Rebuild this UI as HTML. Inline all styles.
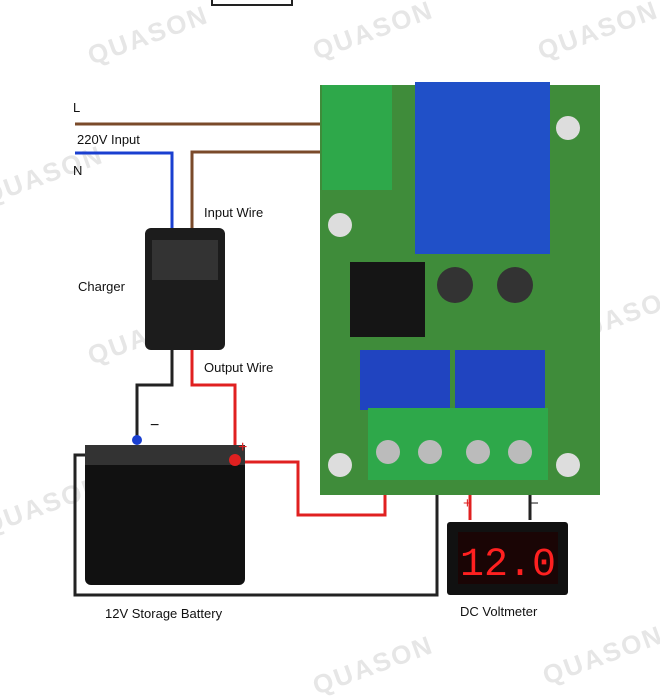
<!DOCTYPE html>
<html><head><meta charset="utf-8"><style>
body{margin:0;background:#fff;}
#c{position:relative;width:660px;height:699px;overflow:hidden;font-family:"Liberation Sans",sans-serif;}
.t{position:absolute;font-size:13px;color:#111;}
.wm{position:absolute;font-size:26px;font-weight:bold;color:#e6e6e6;transform:rotate(-20deg);letter-spacing:2px;}
</style></head><body><div id="c">
<div class="wm" style="left:85px;top:20px">QUASON</div>
<div class="wm" style="left:310px;top:15px">QUASON</div>
<div class="wm" style="left:535px;top:15px">QUASON</div>
<div class="wm" style="left:-20px;top:160px">QUASON</div>
<div class="wm" style="left:85px;top:320px">QUASON</div>
<div class="wm" style="left:560px;top:300px">QUASON</div>
<div class="wm" style="left:-20px;top:490px">QUASON</div>
<div class="wm" style="left:310px;top:650px">QUASON</div>
<div class="wm" style="left:540px;top:640px">QUASON</div>
<svg width="660" height="699" style="position:absolute;left:0;top:0">
<path d="M212 0V5H292V0" fill="none" stroke="#222" stroke-width="2"/>
<path d="M75 124H335" stroke="#7a4a2a" stroke-width="3" fill="none"/>
<path d="M75 153H172V232" stroke="#1a3fd0" stroke-width="3" fill="none"/>
<path d="M192 232V152H335" stroke="#7a4a2a" stroke-width="3" fill="none"/>
<path d="M172 350V385H137V440" stroke="#222" stroke-width="3" fill="none"/>
<path d="M192 350V385H235V458" stroke="#e02020" stroke-width="3" fill="none"/>
<path d="M240 462H298V515H385V480" stroke="#e02020" stroke-width="3" fill="none"/>
<path d="M85 455H75V595H437V480" stroke="#222" stroke-width="3" fill="none"/>
<path d="M470 490V520" stroke="#e02020" stroke-width="3"/>
<path d="M530 490V520" stroke="#222" stroke-width="3"/>
<!-- charger -->
<rect x="145" y="228" width="80" height="122" rx="6" fill="#1c1c1c"/>
<rect x="152" y="240" width="66" height="40" fill="#333"/>
<!-- battery -->
<rect x="85" y="445" width="160" height="140" rx="6" fill="#111"/>
<rect x="85" y="445" width="160" height="20" fill="#333"/>
<circle cx="137" cy="440" r="5" fill="#1a3fd0"/><circle cx="235" cy="460" r="6" fill="#e02020"/>
<text x="150" y="430" font-size="16" fill="#111">−</text>
<text x="238" y="452" font-size="16" fill="#e02020">+</text>
<!-- board -->
<rect x="320" y="85" width="280" height="410" fill="#3f8c3a"/>
<rect x="322" y="85" width="70" height="105" fill="#2ea84a"/>
<rect x="415" y="82" width="135" height="172" fill="#2050c8"/>
<rect x="350" y="262" width="75" height="75" fill="#151515"/>
<rect x="360" y="350" width="90" height="60" fill="#2044c0"/>
<rect x="455" y="350" width="90" height="60" fill="#2044c0"/>
<rect x="368" y="408" width="180" height="72" fill="#2ea84a"/>
<circle cx="388" cy="452" r="12" fill="#bbb"/><circle cx="430" cy="452" r="12" fill="#bbb"/>
<circle cx="478" cy="452" r="12" fill="#bbb"/><circle cx="520" cy="452" r="12" fill="#bbb"/>
<circle cx="455" cy="285" r="18" fill="#333"/><circle cx="515" cy="285" r="18" fill="#333"/>
<circle cx="340" cy="465" r="12" fill="#ddd"/><circle cx="340" cy="225" r="12" fill="#ddd"/>
<circle cx="568" cy="465" r="12" fill="#ddd"/><circle cx="568" cy="128" r="12" fill="#ddd"/>
<!-- voltmeter -->
<rect x="447" y="522" width="121" height="73" rx="3" fill="#111"/>
<rect x="458" y="532" width="100" height="52" fill="#1a0505"/>
<text x="508" y="575" font-size="40" fill="#ff2020" text-anchor="middle" font-family="Liberation Mono">12.0</text>
<text x="463" y="508" font-size="15" fill="#e02020">+</text>
<text x="530" y="508" font-size="15" fill="#222">−</text>
</svg>
<div class="t" style="left:73px;top:100px">L</div>
<div class="t" style="left:77px;top:132px">220V Input</div>
<div class="t" style="left:73px;top:163px">N</div>
<div class="t" style="left:204px;top:205px">Input Wire</div>
<div class="t" style="left:78px;top:279px">Charger</div>
<div class="t" style="left:204px;top:360px">Output Wire</div>
<div class="t" style="left:105px;top:606px">12V Storage Battery</div>
<div class="t" style="left:460px;top:604px">DC Voltmeter</div>
</div></body></html>
